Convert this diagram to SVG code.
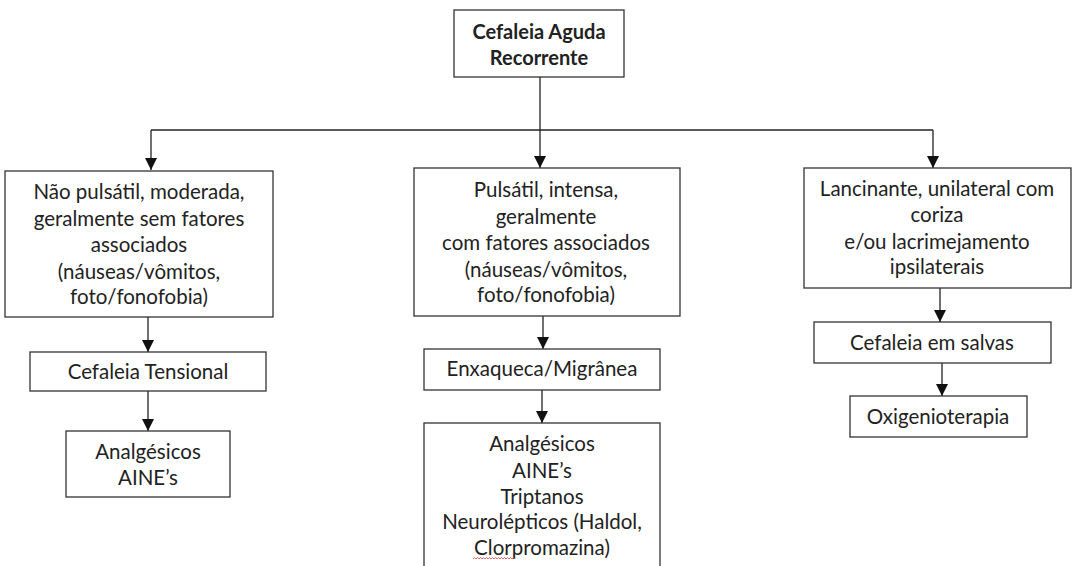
<svg xmlns="http://www.w3.org/2000/svg" width="1073" height="566" viewBox="0 0 1073 566">
<style>
.box{fill:#fff;stroke:#333;stroke-width:1.3}
.t{font-family:Lato,"Liberation Sans",sans-serif;font-size:20.5px;fill:#222;text-anchor:middle}
.b{font-weight:bold;font-size:20px}
.c{stroke:#222;stroke-width:1.3;fill:none}
</style>
<defs>
<marker id="arr" markerUnits="userSpaceOnUse" markerWidth="12" markerHeight="12" viewBox="0 0 12 12" refX="12" refY="6" orient="auto">
<path d="M0,0 L12,6 L0,12 Z" fill="#111"/>
</marker>
</defs>
<rect width="1073" height="566" fill="#fff"/>
<g id="connectors">
<path class="c" d="M540,77 V168" marker-end="url(#arr)"/>
<path class="c" d="M151,130 H933"/>
<path class="c" d="M151,130 V170" marker-end="url(#arr)"/>
<path class="c" d="M933,130 V168" marker-end="url(#arr)"/>
<path class="c" d="M148,317 V352" marker-end="url(#arr)"/>
<path class="c" d="M148,391 V431" marker-end="url(#arr)"/>
<path class="c" d="M543,316 V349" marker-end="url(#arr)"/>
<path class="c" d="M542,390 V423" marker-end="url(#arr)"/>
<path class="c" d="M940,288 V322" marker-end="url(#arr)"/>
<path class="c" d="M942,363 V396" marker-end="url(#arr)"/>
</g>
<g id="n-top">
<rect class="box" x="454" y="10" width="170" height="67"/>
<text class="t b" x="539" y="39">Cefaleia Aguda</text>
<text class="t b" x="539" y="65">Recorrente</text>
</g>
<g id="n-left">
<rect class="box" x="5" y="171" width="268" height="146"/>
<text class="t" x="139" y="199">Não pulsátil, moderada,</text>
<text class="t" x="139" y="226">geralmente sem fatores</text>
<text class="t" x="139" y="252">associados</text>
<text class="t" x="139" y="279">(náuseas/vômitos,</text>
<text class="t" x="139" y="304">foto/fonofobia)</text>
</g>
<g id="n-tensional">
<rect class="box" x="30" y="352" width="236" height="39"/>
<text class="t" x="148" y="379">Cefaleia Tensional</text>
</g>
<g id="n-left-tx">
<rect class="box" x="66" y="431" width="164" height="66"/>
<text class="t" x="148" y="459">Analgésicos</text>
<text class="t" x="148" y="485">AINE’s</text>
</g>
<g id="n-mid">
<rect class="box" x="414" y="168" width="266" height="148"/>
<text class="t" x="546" y="197">Pulsátil, intensa,</text>
<text class="t" x="546" y="224">geralmente</text>
<text class="t" x="546" y="250">com fatores associados</text>
<text class="t" x="546" y="277">(náuseas/vômitos,</text>
<text class="t" x="546" y="302">foto/fonofobia)</text>
</g>
<g id="n-migranea">
<rect class="box" x="424" y="349" width="236" height="41"/>
<text class="t" x="542" y="376">Enxaqueca/Migrânea</text>
</g>
<g id="n-mid-tx">
<rect class="box" x="424" y="423" width="236" height="160"/>
<text class="t" x="542" y="451">Analgésicos</text>
<text class="t" x="542" y="478">AINE’s</text>
<text class="t" x="542" y="504">Triptanos</text>
<text class="t" x="542" y="529">Neurolépticos (Haldol,</text>
<text class="t" x="542" y="555">Clorpromazina)</text>
<path d="M473,559 l1.5,-1.5 l1.5,1.5 l1.5,-1.5 l1.5,1.5 l1.5,-1.5 l1.5,1.5 l1.5,-1.5 l1.5,1.5 l1.5,-1.5 l1.5,1.5 l1.5,-1.5 l1.5,1.5 l1.5,-1.5 l1.5,1.5 l1.5,-1.5 l1.5,1.5 l1.5,-1.5 l1.5,1.5 l1.5,-1.5 l1.5,1.5 l1.5,-1.5 l1.5,1.5 l1.5,-1.5 l1.5,1.5 l1.5,-1.5 l1.5,1.5 l1.5,-1.5 l1.5,1.5" fill="none" stroke="#e04040" stroke-width="0.8"/>
</g>
<g id="n-right">
<rect class="box" x="804" y="168" width="267" height="120"/>
<text class="t" x="937" y="196">Lancinante, unilateral com</text>
<text class="t" x="937" y="222">coriza</text>
<text class="t" x="937" y="249">e/ou lacrimejamento</text>
<text class="t" x="937" y="274">ipsilaterais</text>
</g>
<g id="n-salvas">
<rect class="box" x="814" y="322" width="237" height="41"/>
<text class="t" x="932" y="350">Cefaleia em salvas</text>
</g>
<g id="n-oxig">
<rect class="box" x="850" y="396" width="177" height="41"/>
<text class="t" x="938" y="424">Oxigenioterapia</text>
</g>
</svg>
